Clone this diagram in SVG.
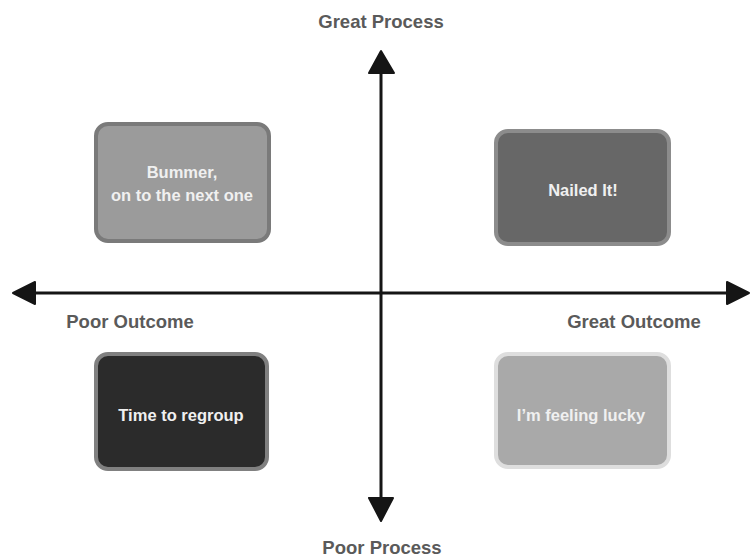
<svg xmlns="http://www.w3.org/2000/svg" width="752" height="557" viewBox="0 0 752 557">
<style>
.axis{stroke:#151515;stroke-width:3;fill:none}
.head{fill:#151515;stroke:#151515;stroke-width:2;stroke-linejoin:round}
.lbl{font-family:"Liberation Sans",Arial,sans-serif;font-weight:bold;font-size:18.5px;fill:#5a5a5a;text-anchor:middle}
.box{stroke-width:4}
.bt{font-family:"Liberation Sans",Arial,sans-serif;font-weight:bold;font-size:16.5px;fill:#f0f0f0;text-anchor:middle}
</style>
<rect width="752" height="557" fill="#ffffff"/>
<g id="connectors">
<line class="axis" x1="35" y1="293" x2="728" y2="293"/>
<line class="axis" x1="381" y1="72" x2="381" y2="499"/>
<polygon class="head" points="13,293 35,282 35,304"/>
<polygon class="head" points="749,293 727,282 727,304"/>
<polygon class="head" points="381,51 369,73 394,73"/>
<polygon class="head" points="381,521 369,498 393,498"/>
</g>
<g id="label-great-process"><text class="lbl" x="381" y="28">Great Process</text></g>
<g id="label-poor-process"><text class="lbl" x="382" y="554">Poor Process</text></g>
<g id="label-poor-outcome"><text class="lbl" x="130" y="328">Poor Outcome</text></g>
<g id="label-great-outcome"><text class="lbl" x="634" y="328">Great Outcome</text></g>
<g id="node-bummer">
<rect class="box" x="96" y="124" width="173" height="117" rx="12" fill="#9b9b9b" stroke="#7a7a7a"/>
<text class="bt" x="182" y="178">Bummer,</text>
<text class="bt" x="182" y="201">on to the next one</text>
</g>
<g id="node-nailed">
<rect class="box" x="496" y="131" width="173" height="113" rx="12" fill="#676767" stroke="#8c8c8c"/>
<text class="bt" x="583" y="196">Nailed It!</text>
</g>
<g id="node-regroup">
<rect class="box" x="96" y="354" width="171" height="115" rx="12" fill="#2b2b2b" stroke="#808080"/>
<text class="bt" x="181" y="421">Time to regroup</text>
</g>
<g id="node-lucky">
<rect class="box" x="496" y="354" width="173" height="113" rx="12" fill="#a9a9a9" stroke="#dedede"/>
<text class="bt" x="581" y="421">I’m feeling lucky</text>
</g>
</svg>
